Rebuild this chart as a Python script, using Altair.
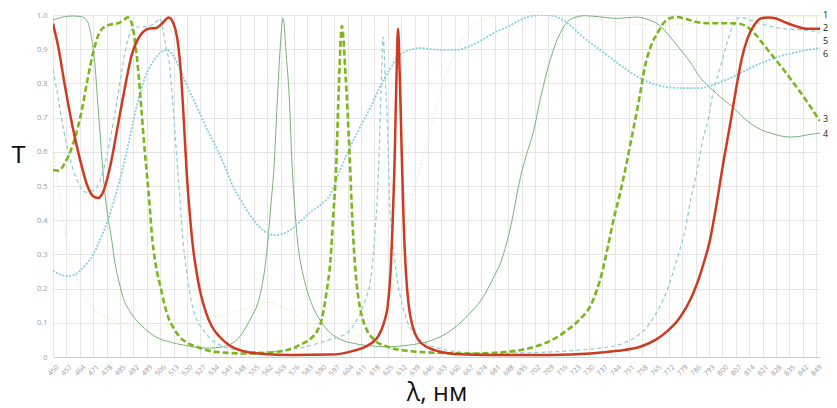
import altair as alt
import pandas as pd

# ---- data ----
lam_1 = [450, 454, 458, 463, 470, 480, 495, 510, 530, 550, 562, 572, 585, 600, 612, 622, 630,
         638, 645, 652, 660, 668, 677, 690, 710, 730, 750, 770, 790, 810, 830, 851]
t_1 = [0.62, 0.45, 0.32, 0.22, 0.15, 0.11, 0.09, 0.095, 0.11, 0.14, 0.16, 0.14, 0.09, 0.05, 0.07, 0.13, 0.25,
       0.46, 0.62, 0.76, 0.89, 0.96, 0.99, 1.0, 1.0, 0.99, 0.975, 0.97, 0.98, 0.99, 0.997, 0.995]

lam_2 = [450, 453, 456, 460, 464, 468, 471, 473.5, 476, 480, 484, 488, 491, 494, 497, 500, 504, 507,
         510.5, 513, 515, 517, 518.5, 520, 521.5, 523, 525, 527, 530, 533, 537, 542, 549, 560, 575,
         595, 607, 615, 620, 623, 625, 626.5, 627.5, 628.5, 629.5, 630.4, 631.3, 632.3, 633.3, 634.6,
         636, 638, 641, 646, 652, 660, 680, 710, 731, 745, 757, 765, 771, 777, 781.6, 785, 788, 791,
         793, 797, 800.5, 804, 807, 810, 813, 816, 820, 824, 828, 833, 838, 844, 851]
t_2 = [0.975, 0.90, 0.80, 0.68, 0.58, 0.50, 0.47, 0.465, 0.48, 0.56, 0.68, 0.80, 0.88, 0.925, 0.95,
       0.96, 0.962, 0.975, 0.993, 0.975, 0.93, 0.82, 0.68, 0.53, 0.42, 0.33, 0.25, 0.19, 0.13, 0.09,
       0.06, 0.035, 0.018, 0.009, 0.006, 0.007, 0.018, 0.035, 0.06, 0.10, 0.15, 0.25, 0.38, 0.55,
       0.80, 0.96, 0.82, 0.60, 0.40, 0.24, 0.15, 0.09, 0.05, 0.028, 0.016, 0.009, 0.006, 0.006, 0.01,
       0.018, 0.03, 0.05, 0.075, 0.11, 0.15, 0.19, 0.235, 0.29, 0.33, 0.45, 0.57, 0.68, 0.78, 0.87,
       0.93, 0.965, 0.99, 0.993, 0.99, 0.978, 0.968, 0.96, 0.96]

lam_3 = [450, 453, 456, 459, 462, 465, 468, 471, 474, 477, 480, 484, 487, 489, 490.5, 492, 494, 496,
         498, 500, 502, 504, 506, 508, 510, 513, 516, 520, 525, 535, 553, 565, 572, 580, 585, 588,
         590.5, 593, 595, 596.6, 598, 599.5, 601, 603, 605, 606.5, 608, 609.6, 612, 614, 618, 625,
         635, 645, 668, 685, 694, 703, 711, 718, 725, 731, 734, 736, 740, 743, 746.5, 750, 753, 756,
         759.5, 763, 766, 769, 772, 776, 781, 786, 792, 800, 808, 813, 817, 822, 827, 832, 836, 840,
         845, 851]
t_3 = [0.547, 0.545, 0.565, 0.60, 0.65, 0.72, 0.81, 0.89, 0.945, 0.966, 0.972, 0.976, 0.985, 0.993,
       0.985, 0.955, 0.87, 0.74, 0.60, 0.48, 0.34, 0.26, 0.21, 0.16, 0.12, 0.085, 0.06, 0.042, 0.03,
       0.015, 0.01, 0.014, 0.02, 0.038, 0.055, 0.075, 0.11, 0.19, 0.28, 0.42, 0.55, 0.80, 0.968, 0.82,
       0.60, 0.40, 0.26, 0.175, 0.11, 0.08, 0.05, 0.03, 0.018, 0.014, 0.01, 0.014, 0.02, 0.032, 0.05,
       0.075, 0.108, 0.15, 0.19, 0.225, 0.32, 0.40, 0.48, 0.57, 0.655, 0.74, 0.85, 0.915, 0.947, 0.975,
       0.99, 0.994, 0.988, 0.98, 0.976, 0.976, 0.975, 0.965, 0.945, 0.91, 0.875, 0.84, 0.81, 0.78,
       0.74, 0.69]

lam_4 = [450, 455, 460, 465, 467.5, 469, 470.5, 472, 473.3, 474.6, 476, 477.5, 479, 480.5, 482.4,
         484.5, 486.6, 490, 494, 499, 504, 511, 518, 525, 532, 538, 542.6, 547, 551, 554, 556.7, 559,
         561, 562.5, 564, 565.5, 567, 568.5, 570.3, 572, 573.5, 575, 576.5, 578, 580, 582.8, 586,
         589.6, 595, 600, 607, 615, 625, 635, 642, 650, 656, 662, 668, 673, 677, 681, 684, 687, 690,
         692.7, 695, 698, 701, 705, 710, 715, 719, 723, 728, 735, 745, 755, 762, 767, 771, 775, 779.5,
         784, 788, 793, 797, 801, 805.6, 810, 814.5, 820, 825, 830, 835.5, 840, 845, 851]
t_4 = [0.985, 0.994, 0.997, 0.995, 0.985, 0.965, 0.92, 0.85, 0.75, 0.655, 0.55, 0.46, 0.40, 0.35,
       0.275, 0.22, 0.175, 0.135, 0.105, 0.078, 0.058, 0.044, 0.035, 0.028, 0.026, 0.029, 0.037, 0.055,
       0.088, 0.12, 0.15, 0.20, 0.27, 0.35, 0.45, 0.55, 0.72, 0.88, 0.99, 0.88, 0.76, 0.56, 0.43, 0.33,
       0.26, 0.196, 0.145, 0.108, 0.07, 0.052, 0.04, 0.033, 0.03, 0.034, 0.04, 0.053, 0.07, 0.095,
       0.128, 0.16, 0.196, 0.24, 0.275, 0.33, 0.40, 0.48, 0.54, 0.60, 0.655, 0.76, 0.87, 0.945, 0.98,
       0.993, 0.998, 0.995, 0.99, 0.994, 0.985, 0.97, 0.947, 0.92, 0.889, 0.855, 0.82, 0.79, 0.77,
       0.75, 0.73, 0.705, 0.684, 0.665, 0.655, 0.647, 0.643, 0.645, 0.65, 0.655]

lam_5 = [450, 452, 455, 458, 461, 464, 467, 470, 473, 476, 478, 481, 483.5, 486, 488.7, 491.8, 495,
         499, 502, 504.5, 506, 507.5, 509, 511, 512.5, 513.8, 515, 516.4, 517.5, 520, 523, 526, 528.5,
         532, 535.6, 541, 546, 554, 562, 570, 579, 589.6, 597, 603.8, 608, 610.6, 613.5, 616, 617.5,
         618.4, 619.5, 620.5, 621.5, 622.6, 623.8, 625, 626, 627, 628.5, 630, 632.5, 635, 638, 642,
         648, 656, 667, 677, 695, 711.5, 725, 736, 748, 755, 760.6, 765, 769, 772, 774, 777, 779.5,
         781.5, 783, 785, 786.8, 788.5, 790, 792, 795, 799, 802, 804, 806.5, 809, 812, 815, 820, 825,
         832, 840, 846, 851]
t_5 = [0.84, 0.78, 0.68, 0.60, 0.54, 0.50, 0.482, 0.485, 0.497, 0.54, 0.585, 0.67, 0.75, 0.84, 0.918,
       0.962, 0.965, 0.965, 0.972, 0.983, 0.99, 0.956, 0.91, 0.85, 0.75, 0.655, 0.56, 0.46, 0.37,
       0.245, 0.146, 0.10, 0.08, 0.055, 0.04, 0.027, 0.02, 0.016, 0.015, 0.019, 0.026, 0.042, 0.055,
       0.07, 0.10, 0.128, 0.17, 0.225, 0.30, 0.37, 0.46, 0.60, 0.78, 0.936, 0.80, 0.655, 0.46, 0.37,
       0.29, 0.225, 0.155, 0.108, 0.075, 0.05, 0.032, 0.02, 0.013, 0.01, 0.012, 0.015, 0.02, 0.026,
       0.04, 0.06, 0.088, 0.125, 0.167, 0.21, 0.245, 0.30, 0.35, 0.40, 0.45, 0.50, 0.547, 0.60, 0.643,
       0.68, 0.77, 0.85, 0.91, 0.947, 0.978, 0.994, 0.99, 0.984, 0.975, 0.967, 0.96, 0.957, 0.954, 0.95]

lam_6 = [450, 453, 457, 461, 464, 468, 471, 474, 477, 481, 485, 488.5, 492, 495, 499, 503, 506, 509.5,
         513, 518, 522, 527, 531, 535.6, 540, 544, 548, 553, 558, 563, 566, 570, 575, 580, 585, 591,
         595, 600, 605, 610.6, 616, 621, 626, 630, 635, 642, 652, 661, 666.5, 672, 677, 682, 687.4,
         694, 701, 706, 712, 719, 727, 736, 745, 755.5, 766, 773, 779.5, 788, 797, 807.7, 818, 828.7,
         839, 851]
t_6 = [0.252, 0.243, 0.236, 0.24, 0.252, 0.275, 0.30, 0.335, 0.375, 0.44, 0.52, 0.60, 0.69, 0.76,
       0.83, 0.87, 0.889, 0.898, 0.88, 0.82, 0.77, 0.71, 0.66, 0.61, 0.555, 0.50, 0.46, 0.415, 0.38,
       0.36, 0.356, 0.36, 0.375, 0.40, 0.425, 0.45, 0.475, 0.545, 0.61, 0.673, 0.73, 0.79, 0.84, 0.875,
       0.895, 0.903, 0.898, 0.898, 0.906, 0.92, 0.936, 0.952, 0.965, 0.985, 0.998, 1.0, 0.997, 0.976,
       0.936, 0.898, 0.86, 0.82, 0.795, 0.788, 0.786, 0.786, 0.80, 0.825, 0.854, 0.877, 0.892, 0.903]

label_names = ["1", "2", "5", "6", "3", "4"]
label_pos = [1.0, 0.962, 0.924, 0.886, 0.695, 0.652]

x_ticks = list(range(450, 850, 7))
y_ticks = [i / 10 for i in range(11)]

FONT = "Open Sans"

x_scale = alt.Scale(domain=[450, 851], nice=False, zero=False)
y_scale = alt.Scale(domain=[0, 1], nice=False, zero=True)

x_axis = alt.Axis(
    values=x_ticks, title="λ, нм", labelAngle=-45, labelAlign="center", labelBaseline="middle",
    labelPadding=13, ticks=False, tickSize=0, labelFontSize=7, labelColor="#9a9a9a", labelFont=FONT,
    labelOverlap=False, labelFlush=False, grid=True, gridColor="#e6e6e6", gridWidth=1,
    domainColor="#cccccc", titleFont=FONT, titleFontSize=25, titleFontWeight="normal",
    titleColor="#111111", titleY=43, titleBaseline="alphabetic",
)
y_axis = alt.Axis(
    values=y_ticks, labelExpr="datum.value == 0 ? '0' : format(datum.value, '.1f')",
    title="T", titleAngle=0, titleX=-35, titleY=140, titleAlign="center", titleBaseline="middle",
    titleFont="Liberation Sans", titleFontSize=24, titleFontWeight="normal", titleColor="#111111",
    domain=False, ticks=False, tickSize=0, labelPadding=6, labelFontSize=7.5, labelColor="#9a9a9a",
    labelFont=FONT, grid=True, gridColor="#e6e6e6", gridWidth=1,
)


def frame(lams, ts):
    return pd.DataFrame({"lam": lams, "T": ts})


def line(df, color, width, dash=None, opacity=1.0):
    kw = dict(color=color, strokeWidth=width, interpolate="monotone", opacity=opacity, clip=True)
    if dash:
        kw["strokeDash"] = dash
    return alt.Chart(df).mark_line(**kw).encode(
        x=alt.X("lam:Q", scale=x_scale, axis=x_axis),
        y=alt.Y("T:Q", scale=y_scale, axis=y_axis),
    )


s1 = line(frame(lam_1, t_1), "#dcecb8", 1.0, [2, 2], 0.8)
s4 = line(frame(lam_4, t_4), "#6aa86a", 0.9)
s6 = line(frame(lam_6, t_6), "#86cfe0", 1.8, [2, 1.5])
s5 = line(frame(lam_5, t_5), "#8fcadc", 1.2, [4, 3])
s3 = line(frame(lam_3, t_3), "#7cb61c", 2.6, [6, 3])
s2 = line(frame(lam_2, t_2), "#cf3b20", 2.5)

labels_df = pd.DataFrame({"name": label_names, "pos": label_pos, "lam": [lam_2[-1]] * len(label_names)})
labels = alt.Chart(labels_df).mark_text(
    align="left", baseline="middle", dx=3, fontSize=9, font=FONT, color="#222222"
).encode(
    x=alt.X("lam:Q", scale=x_scale, axis=x_axis),
    y=alt.Y("pos:Q", scale=y_scale, axis=y_axis),
    text="name:N",
)

chart = alt.layer(s1, s4, s6, s5, s3, s2, labels).properties(
    width=767, height=342,
    autosize=alt.AutoSizeParams(type="none"),
    padding={"left": 45, "top": 7, "right": 9, "bottom": 52},
).configure_view(stroke=None, fill="white")

chart.save("out.html", embed_options={"renderer": "svg", "actions": False})
